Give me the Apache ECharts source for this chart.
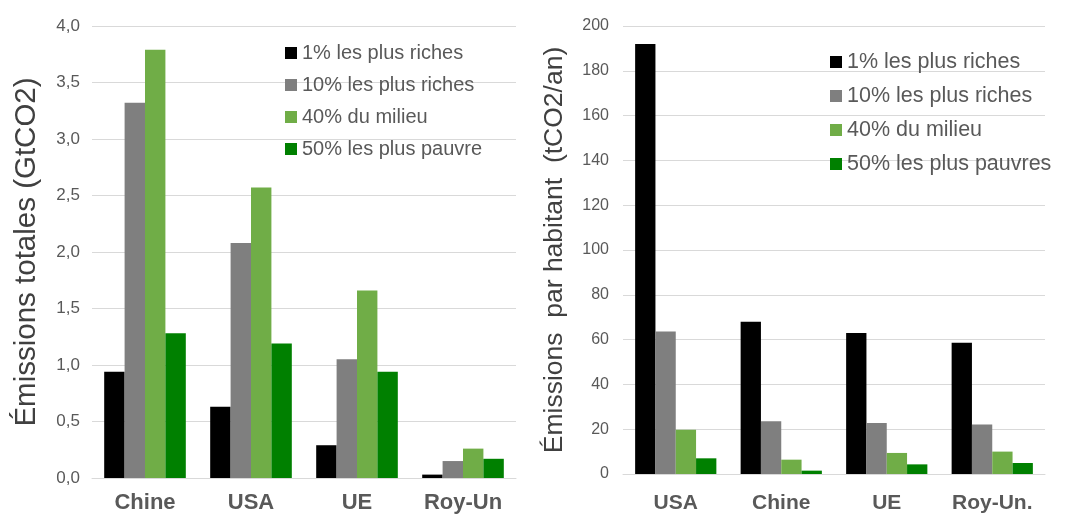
<!DOCTYPE html>
<html>
<head>
<meta charset="utf-8">
<script src="https://cdn.jsdelivr.net/npm/echarts@6/dist/echarts.min.js"></script>
<style>
  html, body { margin: 0; padding: 0; background: #fff; }
  #chart { width: 1076px; height: 514px; }
</style>
</head>
<body>
<div id="chart"></div>
<script>
// émissions totales (GtCO2)
const totalCountries = ['Chine', 'USA', 'UE', 'Roy-Un'];
const totalRich1 = [0.94, 0.63, 0.29, 0.03];
const totalRich10 = [3.32, 2.08, 1.05, 0.15];
const totalMiddle40 = [3.79, 2.57, 1.66, 0.26];
const totalPoor50 = [1.28, 1.19, 0.94, 0.17];
const totalNames = ['1% les plus riches', '10% les plus riches', '40% du milieu', '50% les plus pauvre'];

// émissions par habitant (tCO2/an)
const perCapCountries = ['USA', 'Chine', 'UE', 'Roy-Un.'];
const perCapRich1 = [192, 68, 63, 58.6];
const perCapRich10 = [63.6, 23.5, 22.8, 22.1];
const perCapMiddle40 = [19.8, 6.4, 9.4, 10];
const perCapPoor50 = [7, 1.5, 4.3, 4.9];
const perCapNames = ['1% les plus riches', '10% les plus riches', '40% du milieu', '50% les plus pauvres'];

const colors = ['#000000', '#7f7f7f', '#70ad47', '#008000'];
const font = 'Liberation Sans, Arial, sans-serif';

const myChart = echarts.init(document.getElementById('chart'));

const makeSeries = (names, values, axisIndex, gap) =>
  names.map((name, i) => ({
    name: name,
    type: 'bar',
    xAxisIndex: axisIndex,
    yAxisIndex: axisIndex,
    data: values[i],
    barGap: '0%',
    barCategoryGap: gap,
    itemStyle: { color: colors[i] },
    animation: false
  }));

const option = {
  textStyle: { fontFamily: font },
  legend: [
    {
      data: totalNames,
      orient: 'vertical',
      left: 280,
      top: 38,
      itemWidth: 12,
      itemHeight: 12,
      itemGap: 12,
      icon: 'rect',
      textStyle: { fontSize: 20, color: '#595959', fontFamily: font }
    },
    {
      data: perCapNames,
      orient: 'vertical',
      left: 825,
      top: 46,
      itemWidth: 12,
      itemHeight: 12,
      itemGap: 12,
      icon: 'rect',
      textStyle: { fontSize: 21.5, color: '#595959', fontFamily: font }
    }
  ],
  grid: [
    { left: 92, top: 26, width: 424, height: 452 },
    { left: 623, top: 26, width: 422, height: 448 }
  ],
  xAxis: [
    {
      type: 'category',
      gridIndex: 0,
      data: totalCountries,
      axisTick: { show: false },
      axisLine: { lineStyle: { color: '#d9d9d9' } },
      axisLabel: { fontSize: 22, fontWeight: 'bold', color: '#595959', margin: 14, fontFamily: font }
    },
    {
      type: 'category',
      gridIndex: 1,
      data: perCapCountries,
      axisTick: { show: false },
      axisLine: { lineStyle: { color: '#d9d9d9' } },
      axisLabel: { fontSize: 21, fontWeight: 'bold', color: '#595959', margin: 19, fontFamily: font }
    }
  ],
  yAxis: [
    {
      type: 'value',
      gridIndex: 0,
      min: 0,
      max: 4,
      interval: 0.5,
      name: 'Émissions totales (GtCO2)',
      nameLocation: 'middle',
      nameGap: 50,
      nameTextStyle: { fontSize: 29.5, color: '#404040', fontFamily: font },
      axisLine: { show: false },
      axisTick: { show: false },
      splitLine: { lineStyle: { color: '#d9d9d9' } },
      axisLabel: {
        fontSize: 17,
        color: '#595959',
        margin: 12,
        fontFamily: font,
        formatter: (v) => v.toFixed(1).replace('.', ',')
      }
    },
    {
      type: 'value',
      gridIndex: 1,
      min: 0,
      max: 200,
      interval: 20,
      name: 'Émissions  par habitant  (tCO2/an)',
      nameLocation: 'middle',
      nameGap: 55,
      nameTextStyle: { fontSize: 26.5, color: '#404040', fontFamily: font },
      axisLine: { show: false },
      axisTick: { show: false },
      splitLine: { lineStyle: { color: '#d9d9d9' } },
      axisLabel: { fontSize: 16, color: '#595959', margin: 14, fontFamily: font }
    }
  ],
  series: [
    ...makeSeries(totalNames, [totalRich1, totalRich10, totalMiddle40, totalPoor50], 0, '23%'),
    ...makeSeries(perCapNames, [perCapRich1, perCapRich10, perCapMiddle40, perCapPoor50], 1, '23%')
  ]
};

option && myChart.setOption(option);
</script>
</body>
</html>
